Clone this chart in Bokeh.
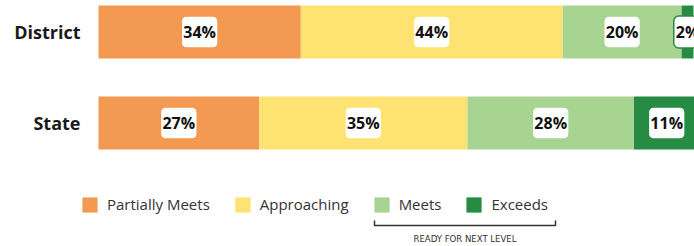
from bokeh.plotting import figure
from bokeh.models import Range1d, FixedTicker, ColumnDataSource
from bokeh.core.properties import value
from bokeh.embed import file_html
from bokeh.resources import INLINE

# ---------------- data ----------------
categories = ["District", "State"]
levels = ["Partially Meets", "Approaching", "Meets", "Exceeds"]
partially_meets = [34, 27]
approaching = [44, 35]
meets = [20, 28]
exceeds = [2, 11]
colors = ["#F39952", "#FEE372", "#A8D491", "#268C44"]
bracket_text = "READY FOR NEXT LEVEL"

# ---------------- layout ----------------
W, H = 694, 246
LEFT = 80            # frame left edge (canvas px)
BAR_LEFT = 98        # where 0% sits (canvas px)
PX_PER_PCT = 5.95
BAR_H = 53
ROW0, ROW_STEP = 31.5, 91
ypos = [ROW0 + ROW_STEP * i for i in range(len(categories))]

p = figure(width=W, height=H, output_backend="svg", toolbar_location=None,
           x_range=Range1d(-(BAR_LEFT - LEFT) / PX_PER_PCT, (W - BAR_LEFT) / PX_PER_PCT),
           y_range=Range1d(H, 0),
           x_axis_location=None,
           min_border_left=LEFT, min_border_right=0,
           min_border_top=0, min_border_bottom=0)
p.extra_x_ranges = {"px": Range1d(LEFT, W)}
p.grid.visible = False
p.outline_line_color = None
p.background_fill_color = "white"
p.border_fill_color = "white"

keys = ["pm", "ap", "me", "ex"]
series = [partially_meets, approaching, meets, exceeds]
src = ColumnDataSource(dict(y=ypos, **{k: s for k, s in zip(keys, series)}))
p.hbar_stack(keys, y="y", height=BAR_H, color=colors, line_width=0,
             source=src, legend_label=levels)

# y axis
ax = p.yaxis[0]
ax.ticker = FixedTicker(ticks=ypos)
ax.major_label_overrides = {y: c for y, c in zip(ypos, categories)}
ax.axis_line_color = None
ax.major_tick_line_color = None
ax.minor_tick_line_color = None
ax.major_tick_out = 0
ax.major_tick_in = 0
ax.major_label_standoff = 0
ax.major_label_text_font = "Open Sans"
ax.major_label_text_font_style = "bold"
ax.major_label_text_font_size = "18px"
ax.major_label_text_color = "#1a1a1a"

# value labels
lx, ly, lt, lc = [], [], [], []
for i in range(len(categories)):
    left = 0
    for s, c in zip(series, colors):
        v = s[i]
        lx.append(left + v / 2)
        ly.append(ypos[i])
        lt.append(f"{v}%")
        lc.append(c)
        left += v
lsrc = ColumnDataSource(dict(x=lx, y=ly, t=lt, c=lc))
p.text(x="x", y="y", text="t", source=lsrc,
       text_align="center", text_baseline="middle",
       text_font=value("Open Sans"), text_font_style="bold",
       text_font_size="16px", text_color="#111111",
       background_fill_color="white", border_line_color="c",
       border_line_width=1.5, border_radius=5, padding=(2, 5))

# legend
lg = p.legend[0]
lg.orientation = "horizontal"
lg.location = (0, 32)
lg.glyph_width = 19
lg.glyph_height = 19
lg.label_standoff = 8
lg.spacing = 23
lg.padding = 0
lg.margin = 0
lg.border_line_color = None
lg.background_fill_alpha = 0
lg.label_text_font = "Open Sans"
lg.label_text_font_size = "15px"
lg.label_text_color = "#333333"
lg.label_text_baseline = "middle"

# bracket under "Meets" and "Exceeds"
bx0, bx1, by, btick = 374, 555, 225, 5
p.line(x=[bx0, bx0, bx1, bx1], y=[by - btick, by, by, by - btick],
       x_range_name="px", line_color="#333333", line_width=1.5)
p.text(x=[(bx0 + bx1) / 2], y=[by + 13], text=[bracket_text], x_range_name="px",
       text_align="center", text_baseline="middle",
       text_font=value("'Liberation Sans Narrow', 'DejaVu Sans Condensed', sans-serif"),
       text_font_size="9.5px", text_color="#333333")

open("out.html", "w").write(file_html(p, INLINE))
